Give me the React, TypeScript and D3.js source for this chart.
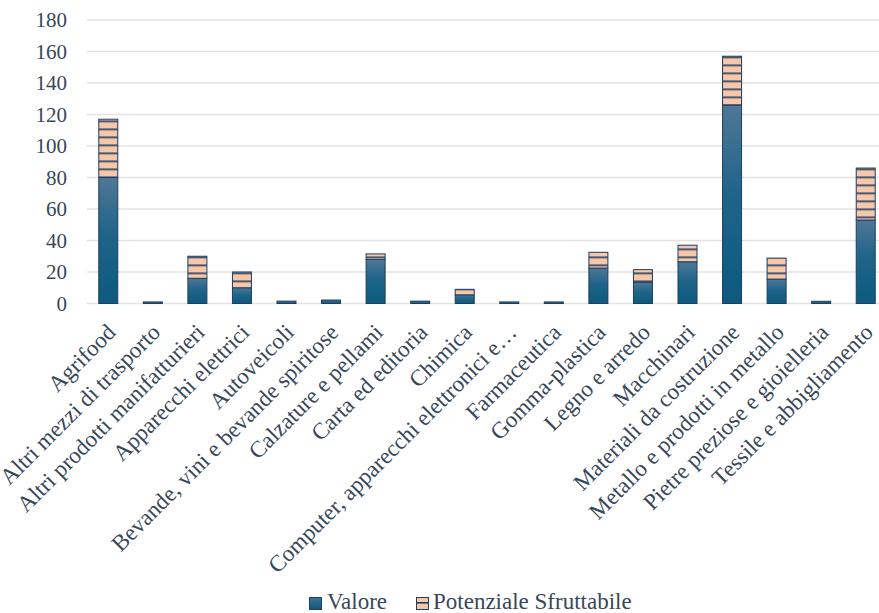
import React from "react";
import * as d3 from "d3";

// Settori e valori (valore attuale + potenziale sfruttabile)
const categories: string[] = [
  "Agrifood",
  "Altri mezzi di trasporto",
  "Altri prodotti manifatturieri",
  "Apparecchi elettrici",
  "Autoveicoli",
  "Bevande, vini e bevande spiritose",
  "Calzature e pellami",
  "Carta ed editoria",
  "Chimica",
  "Computer, apparecchi elettronici e…",
  "Farmaceutica",
  "Gomma-plastica",
  "Legno e arredo",
  "Macchinari",
  "Materiali da costruzione",
  "Metallo e prodotti in metallo",
  "Pietre preziose e gioielleria",
  "Tessile e abbigliamento",
];

const valore: number[] = [80, 1, 16, 10, 1.5, 2.2, 28, 1.5, 5.5, 1, 1, 22.5, 13.5, 26.5, 126, 15.5, 1.4, 53];
const potenziale: number[] = [37, 0, 14, 10, 0, 0, 3.5, 0, 3.5, 0, 0, 10, 8, 10.5, 31, 13.3, 0, 33];

const yTicks: number[] = [0, 20, 40, 60, 80, 100, 120, 140, 160, 180];

const seriesNames: string[] = ["Valore", "Potenziale Sfruttabile"];

const W = 879;
const H = 613;
const FONT = '"Liberation Serif", "Times New Roman", serif';
const TEXT = "#37475a";
const NAVY = "#1d3d62";

export default function App() {
  const band = d3.scaleBand<string>().domain(categories).range([86, 888]);
  const y = d3.scaleLinear().domain([0, 180]).range([303.5, 20]);

  const bw = 19;
  const ts = { fontFamily: FONT };

  return (
    <svg
      width={W}
      height={H}
      style={{ position: "absolute", left: 0, top: 0, background: "#fff" }}
    >
      <defs>
        <linearGradient id="valGrad" x1="0" y1="0" x2="0" y2="1">
          <stop offset="0" stopColor="#4f7796" />
          <stop offset="0.45" stopColor="#1f6489" />
          <stop offset="1" stopColor="#0b5a7f" />
        </linearGradient>
        <pattern id="stripes" patternUnits="userSpaceOnUse" width="8" height="8" y="0.5">
          <rect width="8" height="8" fill="#f7c7a7" />
          <rect y="0" width="8" height="1.6" fill={NAVY} />
        </pattern>
        <linearGradient id="legGrad" x1="0" y1="0" x2="0" y2="1">
          <stop offset="0" stopColor="#3f7192" />
          <stop offset="1" stopColor="#0b5a7f" />
        </linearGradient>
      </defs>

      {/* griglia */}
      {yTicks.map((t) => (
        <line
          key={"g" + t}
          x1={87}
          x2={W}
          y1={y(t)}
          y2={y(t)}
          stroke="#e3e3e3"
          strokeWidth={1.5}
        />
      ))}

      {/* etichette asse y */}
      {yTicks.map((t) => (
        <text
          key={"t" + t}
          x={67}
          y={y(t) + 7}
          textAnchor="end"
          fontSize={21}
          fill={TEXT}
          style={ts}
        >
          {t}
        </text>
      ))}

      {/* barre */}
      {categories.map((c, i) => {
        const cx = (band(c) as number) + band.bandwidth() / 2;
        const x0 = cx - bw / 2;
        const v = valore[i];
        const p = potenziale[i];
        return (
          <g key={c}>
            <rect
              x={x0}
              y={y(v)}
              width={bw}
              height={y(0) - y(v)}
              fill="url(#valGrad)"
              stroke={NAVY}
              strokeWidth={1}
            />
            {p > 0 && (
              <rect
                x={x0}
                y={y(v + p)}
                width={bw}
                height={y(v) - y(v + p)}
                fill="url(#stripes)"
                stroke={NAVY}
                strokeWidth={1}
              />
            )}
          </g>
        );
      })}

      {/* etichette categorie */}
      {categories.map((c) => {
        const cx = (band(c) as number) + band.bandwidth() / 2;
        return (
          <text
            key={"l" + c}
            transform={`translate(${cx - 3},${322}) rotate(-45)`}
            textAnchor="end"
            dy="0.72em"
            fontSize={23}
            fill={TEXT}
            style={ts}
          >
            {c}
          </text>
        );
      })}

      {/* legenda */}
      <g>
        <rect x={309.5} y={597.5} width={12} height={12} fill="url(#legGrad)" stroke={NAVY} strokeWidth={1} />
        <text x={327} y={609} fontSize={23} fill={TEXT} style={ts}>
          {seriesNames[0]}
        </text>
        <rect x={416.5} y={597.5} width={12} height={12} fill="#f7c7a7" stroke={NAVY} strokeWidth={1} />
        <rect x={416.5} y={602} width={12} height={1.6} fill={NAVY} />
        <text x={433} y={609} fontSize={23} fill={TEXT} style={ts}>
          {seriesNames[1]}
        </text>
      </g>
    </svg>
  );
}
